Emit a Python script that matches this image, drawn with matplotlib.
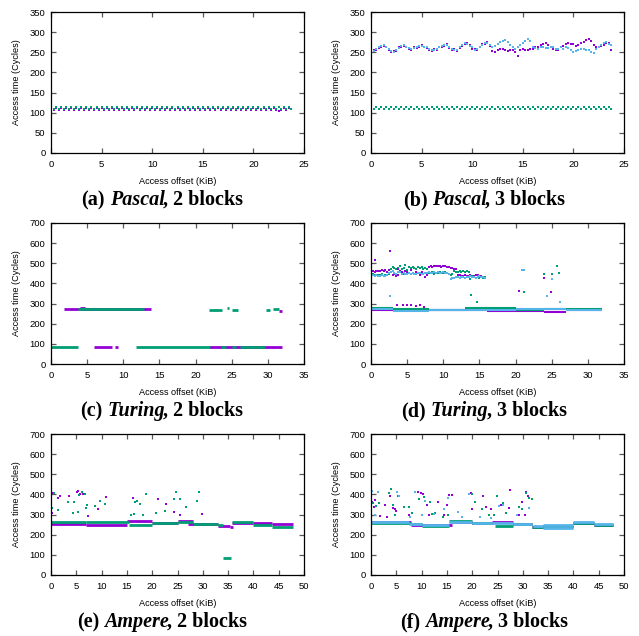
import matplotlib
matplotlib.use("Agg")
import matplotlib.pyplot as plt
import numpy as np

PURPLE, GREEN, BLUE = "#9400d3", "#009e73", "#56b4e9"

# --- Pascal: access offsets every 0.25 KiB (0 .. 23.75) ---
pascal_offsets = np.arange(96) * 0.25

pascal2_purple = [
    111, 106, 111, 106, 111, 106, 111, 106, 111, 106, 111, 106, 111, 106, 111, 106,
    111, 106, 111, 106, 111, 106, 111, 106, 111, 106, 111, 106, 111, 106, 111, 106,
    111, 106, 111, 106, 111, 106, 111, 106, 111, 106, 111, 106, 111, 106, 111, 106,
    111, 106, 111, 106, 111, 106, 111, 106, 111, 106, 111, 106, 111, 106, 111, 106,
    111, 106, 111, 106, 111, 106, 111, 106, 111, 106, 111, 106, 111, 106, 111, 106,
    111, 106, 111, 106, 111, 106, 111, 106, 111, 106, 105, 106, 111, 106, 111, 108,
]
pascal2_green = [
    115, 109, 115, 109, 115, 109, 115, 109, 115, 109, 115, 109, 115, 109, 115, 109,
    115, 109, 115, 109, 115, 109, 115, 109, 115, 109, 115, 109, 115, 109, 115, 109,
    115, 109, 115, 109, 115, 109, 115, 109, 115, 109, 115, 109, 115, 109, 115, 109,
    115, 109, 115, 109, 115, 109, 115, 109, 115, 109, 115, 109, 115, 109, 115, 109,
    115, 109, 115, 109, 115, 109, 115, 109, 115, 109, 115, 109, 115, 109, 115, 109,
    115, 109, 115, 109, 115, 109, 115, 109, 115, 109, 115, 109, 115, 109, 115, 110,
]

pascal3_purple = [
    252, 255, 256, 260, 263, 266, 264, 256, 250, 252, 253, 262, 263, 266, 264, 258,
    256, 262, 260, 263, 268, 262, 260, 256, 254, 257, 256, 264, 263, 266, 270, 260,
    256, 257, 253, 260, 266, 270, 272, 268, 258, 257, 256, 264, 270, 270, 276, 266,
    252, 250, 255, 258, 258, 255, 252, 255, 255, 250, 242, 255, 258, 255, 255, 258,
    258, 262, 262, 268, 270, 272, 268, 262, 258, 255, 255, 262, 265, 270, 272, 270,
    270, 265, 268, 272, 275, 280, 282, 278, 268, 262, 262, 265, 268, 272, 272, 255,
]
pascal3_green = [
    114, 108, 114, 108, 114, 108, 114, 108, 114, 108, 114, 108, 114, 108, 114, 108,
    114, 108, 114, 108, 114, 108, 114, 108, 114, 108, 114, 108, 114, 108, 114, 108,
    114, 108, 114, 108, 114, 108, 114, 108, 114, 108, 114, 108, 114, 108, 114, 108,
    114, 108, 114, 108, 114, 108, 114, 108, 114, 108, 114, 108, 114, 108, 114, 108,
    114, 108, 114, 108, 114, 108, 114, 108, 114, 108, 114, 108, 114, 108, 114, 108,
    114, 108, 114, 108, 114, 108, 114, 108, 114, 108, 114, 108, 114, 108, 114, 110,
]
pascal3_blue = [
    255, 252, 258, 262, 265, 268, 262, 258, 252, 250, 255, 260, 265, 268, 262, 260,
    258, 260, 262, 265, 266, 264, 262, 258, 256, 255, 258, 262, 265, 268, 268, 262,
    258, 255, 255, 262, 268, 272, 270, 265, 262, 255, 258, 262, 268, 272, 274, 268,
    262, 265, 270, 275, 278, 280, 275, 268, 262, 258, 262, 268, 272, 278, 282, 278,
    262, 260, 258, 262, 262, 260, 260, 264, 262, 258, 258, 262, 258, 262, 260, 255,
    250, 252, 255, 258, 258, 255, 255, 250, 248, 258, 262, 268, 272, 275, 270, 268,
]

# --- Turing, 2 blocks: flat runs (start KiB, end KiB, cycles) ---
turing2_purple_runs = [(1.8, 13.8, 271), (4.0, 4.7, 280), (5.9, 8.4, 85),
                       (8.9, 9.3, 85), (21.9, 31.9, 85), (31.6, 31.9, 265)]
turing2_green_runs = [(0.0, 3.7, 85), (3.8, 12.9, 272), (11.7, 22.0, 85),
                      (23.5, 24.2, 85), (25.0, 25.6, 85), (26.2, 29.6, 85),
                      (21.8, 23.6, 270), (24.3, 24.6, 276), (25.1, 25.9, 270),
                      (29.8, 30.3, 268), (30.7, 31.5, 271)]

# --- Turing, 3 blocks ---
turing3_hi_offsets = np.arange(64) * 0.25
turing3_purple_hi = [
    460, 462, 458, 460, 462, 460, 465, 462, 468, 458, 465, 455, 440, 445, 438, 442,
    462, 455, 448, 460, 455, 450, 465, 452, 445, 458, 450, 440, 455, 445, 430, 440,
    482, 485, 484, 488, 486, 485, 487, 484, 486, 485, 482, 480, 478, 475, 472, 470,
    442, 440, 438, 436, 440, 438, 435, 440, 438, 436, 442, 440, 432, 435, 430, 428,
]
turing3_green_hi = [
    442, 445, 440, 444, 442, 440, 445, 438, 442, 440, 448, 472, 480, 475, 470, 478,
    485, 472, 478, 490, 468, 480, 475, 482, 478, 470, 484, 476, 480, 472, 478, 470,
    452, 450, 455, 448, 452, 450, 455, 452, 450, 455, 452, 448, 440, 445, 460, 458,
    458, 460, 455, 462, 458, 460, 455, 420, 438, 430, 425, 435, 428, 432, 425, 430,
]
turing3_blue_hi = [
    438, 440, 436, 440, 438, 435, 440, 436, 438, 442, 450, 455, 460, 452, 448, 455,
    458, 445, 450, 448, 445, 450, 448, 452, 445, 448, 450, 452, 445, 448, 450, 452,
    455, 452, 450, 455, 452, 455, 450, 452, 455, 452, 450, 448, 420, 425, 428, 430,
    430, 428, 432, 430, 428, 432, 430, 435, 432, 430, 428, 432, 435, 430, 432, 428,
]
turing3_purple_runs = [(0, 3, 270), (3, 16, 268), (16, 24, 262), (24, 27, 258), (27, 32, 268)]
turing3_green_runs = [(0, 3, 278), (3, 8, 274), (8, 13, 270), (13, 20, 276), (20, 24, 270), (24, 32, 272)]
turing3_blue_runs = [(0, 3, 275), (3, 8, 263), (8, 12, 268), (12, 20, 270), (20, 27, 272), (27, 32, 270)]
turing3_purple_x = [0.55, 2.6, 3.8, 20.5, 24.0, 24.9, 25.8, 3.6, 4.4, 5.0, 5.6, 6.2, 6.8, 7.3]
turing3_purple_y = [518, 562, 470, 360, 428, 355, 487, 292, 295, 293, 294, 288, 292, 285]
turing3_green_x = [13.8, 14.6, 21.1, 24.0, 25.0, 26.0, 25.7]
turing3_green_y = [342, 307, 355, 447, 447, 450, 485]
turing3_blue_x = [2.6, 20.9, 21.2, 24.3, 25.0, 26.1]
turing3_blue_y = [336, 467, 465, 340, 420, 308]

# --- Ampere, 2 blocks ---
ampere2_purple_runs = [(0, 7, 255), (7, 15, 250), (15, 20, 268), (20, 25, 260), (25, 28, 267),
                       (27, 33, 255), (33, 35.4, 245), (35.4, 36, 240), (35.8, 40, 258),
                       (40, 43.7, 260), (43.7, 47.8, 252)]
ampere2_green_runs = [(0, 7, 262), (7, 15.5, 262), (15.5, 20, 248), (20, 25, 257), (25, 28, 265),
                      (28, 33, 255), (33, 34, 247), (34, 35.5, 85), (35.8, 40, 263),
                      (40, 43.7, 248), (43.7, 47.8, 238)]
ampere2_purple_x = [0.2, 0.4, 1.4, 1.8, 3.6, 5.1, 5.4, 5.7, 6.3, 7.4, 9.2, 10.8,
                    16.3, 21.1, 22.7, 24.4, 25.4, 29.9]
ampere2_purple_y = [310, 405, 381, 394, 394, 410, 417, 400, 404, 294, 329, 387,
                    380, 376, 351, 313, 298, 303]
ampere2_green_x = [0.2, 0.5, 1.4, 3.4, 4.3, 4.5, 5.3, 5.5, 6.1, 6.7, 6.9, 7.2, 8.6, 9.7,
                   10.7, 15.9, 16.4, 16.6, 16.9, 17.6, 18.2, 18.7, 20.8, 22.5, 24.3,
                   24.7, 25.5, 26.7, 28.8, 29.2]
ampere2_green_y = [334, 405, 321, 362, 307, 362, 311, 396, 412, 404, 334, 346, 341, 367,
                   354, 296, 301, 362, 366, 354, 298, 404, 306, 319, 376, 414, 379, 338,
                   369, 412]

# --- Ampere, 3 blocks ---
ampere3_purple_runs = [(0, 8, 262), (8, 16, 250), (16, 20, 265), (20, 24, 258), (24, 28, 262),
                       (28, 31.8, 255), (31.8, 34, 238), (34, 40, 245), (40, 44, 258),
                       (44, 47.8, 248)]
ampere3_green_runs = [(0, 8, 258), (8, 10, 252), (10, 15.5, 242), (15.5, 20, 268), (20, 24, 258),
                      (24.5, 28, 245), (28, 31.8, 255), (31.8, 34, 240), (34, 40, 238),
                      (40, 44, 260), (44, 47.8, 250)]
ampere3_blue_runs = [(0, 7.5, 262), (7.5, 10, 255), (10, 15.5, 250), (15.5, 20, 262),
                     (20, 24, 258), (24, 28, 258), (28, 31.8, 252), (32, 34, 245), (34, 40, 235),
                     (34, 40, 250), (40, 44, 262), (44, 47.8, 252)]
ampere3_purple_x = [0.2, 0.5, 0.8, 1.8, 2.8, 3.2, 3.8, 4.3, 4.7, 5.0, 7.5, 9.3, 9.8, 10.3,
                    11.0, 11.5, 13.3, 14.5, 15.0, 15.5, 16.0, 19.7, 20.0, 22.2, 22.8, 23.7,
                    24.3, 25.6, 27.3, 27.5, 29.3, 29.8, 30.4, 30.7, 31.1]
ampere3_purple_y = [360, 340, 372, 295, 350, 290, 390, 335, 330, 320, 300, 410, 405, 400,
                    350, 300, 360, 300, 350, 395, 398, 405, 330, 390, 340, 330,
                    300, 350, 335, 420, 300, 360, 300, 410, 390]
ampere3_green_x = [0.3, 1.0, 1.5, 3.6, 4.0, 4.3, 4.8, 5.3, 6.6, 7.5, 8.2, 9.4, 10.4, 11.7,
                   12.1, 12.6, 14.3, 15.2, 19.9, 20.5, 22.0, 23.4, 24.3, 24.9, 26.0, 26.6,
                   29.3, 29.8, 30.6, 31.3, 31.8]
ampere3_green_y = [355, 345, 355, 405, 425, 350, 300, 390, 340, 340, 310, 375, 385, 360,
                   305, 310, 290, 300, 400, 360, 330, 300, 300, 390, 355, 310,
                   340, 330, 405, 380, 378]
ampere3_blue_x = [0.2, 0.8, 1.4, 5.2, 5.6, 7.8, 8.7, 10.0, 10.7, 12.5, 14.5, 15.3, 17.2,
                  18.0, 19.3, 21.5, 23.8, 25.2, 26.1, 28.8, 31.3]
ampere3_blue_y = [415, 300, 410, 410, 390, 290, 410, 300, 365, 305, 330, 380, 315,
                  290, 400, 290, 285, 345, 350, 300, 335]

FIG_W, FIG_H = 639, 636
COL_LEFT = [51, 371]
COL_CENTER = [162, 484]
ROW_TOP = [12, 223, 434]
AX_W, AX_H = 253, 141

fig = plt.figure(figsize=(FIG_W / 100, FIG_H / 100), dpi=100)
plt.rcParams["font.family"] = "Liberation Sans"


def make_axes(row, col, xmax, ymax, ystep):
    left, top = COL_LEFT[col], ROW_TOP[row]
    ax = fig.add_axes([left / FIG_W, 1 - (top + AX_H) / FIG_H, AX_W / FIG_W, AX_H / FIG_H])
    ax.set_xlim(0, xmax)
    ax.set_ylim(0, ymax)
    ax.set_xticks(np.arange(0, xmax + 1, 5))
    ax.set_yticks(np.arange(0, ymax + 1, ystep))
    ax.tick_params(direction="in", length=3.5, width=0.9, color="0.35", top=True,
                   right=True, labelsize=6.8, pad=4)
    ax.tick_params(axis="x", pad=5)
    for sp in ax.spines.values():
        sp.set_linewidth(0.9)
    cx = (left + AX_W / 2) / FIG_W
    fig.text(cx, 1 - (top + AX_H + 28.5) / FIG_H, "Access offset (KiB)",
             ha="center", va="center", fontsize=6.6)
    fig.text((left - 34) / FIG_W, 1 - (top + AX_H / 2) / FIG_H, "Access time (Cycles)",
             ha="center", va="center", rotation=90, fontsize=6.6)
    return ax


def dots(ax, x, y, color):
    ax.plot(x, y, ls="none", marker="s", ms=1.6, mew=0, color=color)


def runs(ax, segs, color, lw=2.0):
    ax.hlines([s[2] for s in segs], [s[0] for s in segs], [s[1] for s in segs],
              color=color, lw=lw)


def caption(row, col, letter, name, rest):
    renderer = fig.canvas.get_renderer()
    base = 1 - (ROW_TOP[row] + AX_H + 52) / FIG_H
    kw = dict(fontfamily="Liberation Serif", fontweight="bold", fontsize=14.5, va="baseline")
    t1 = fig.text(0, base, letter, **kw)
    t2 = fig.text(0, base, name, style="italic", **kw)
    t3 = fig.text(0, base, rest, **kw)
    w = [t.get_window_extent(renderer).width for t in (t1, t2, t3)]
    gap = 5
    total = w[0] + gap + w[1] - 2 + w[2]
    x = COL_CENTER[col] - total / 2
    t1.set_x(x / FIG_W)
    t2.set_x((x + w[0] + gap) / FIG_W)
    t3.set_x((x + w[0] + gap + w[1] - 2) / FIG_W)


# (a) Pascal, 2 blocks
ax = make_axes(0, 0, 25, 350, 50)
dots(ax, pascal_offsets, pascal2_purple, PURPLE)
dots(ax, pascal_offsets, pascal2_green, GREEN)
caption(0, 0, "(a)", "Pascal", ", 2 blocks")

# (b) Pascal, 3 blocks
ax = make_axes(0, 1, 25, 350, 50)
dots(ax, pascal_offsets, pascal3_purple, PURPLE)
dots(ax, pascal_offsets, pascal3_green, GREEN)
dots(ax, pascal_offsets, pascal3_blue, BLUE)
caption(0, 1, "(b)", "Pascal", ", 3 blocks")

# (c) Turing, 2 blocks
ax = make_axes(1, 0, 35, 700, 100)
runs(ax, turing2_purple_runs, PURPLE)
runs(ax, turing2_green_runs, GREEN)
caption(1, 0, "(c)", "Turing", ", 2 blocks")

# (d) Turing, 3 blocks
ax = make_axes(1, 1, 35, 700, 100)
runs(ax, turing3_purple_runs, PURPLE, 1.5)
runs(ax, turing3_green_runs, GREEN, 1.5)
runs(ax, turing3_blue_runs, BLUE, 1.5)
dots(ax, turing3_hi_offsets, turing3_purple_hi, PURPLE)
dots(ax, turing3_hi_offsets, turing3_green_hi, GREEN)
dots(ax, turing3_hi_offsets, turing3_blue_hi, BLUE)
dots(ax, turing3_purple_x, turing3_purple_y, PURPLE)
dots(ax, turing3_green_x, turing3_green_y, GREEN)
dots(ax, turing3_blue_x, turing3_blue_y, BLUE)
caption(1, 1, "(d)", "Turing", ", 3 blocks")

# (e) Ampere, 2 blocks
ax = make_axes(2, 0, 50, 700, 100)
runs(ax, ampere2_purple_runs, PURPLE)
runs(ax, ampere2_green_runs, GREEN)
dots(ax, ampere2_purple_x, ampere2_purple_y, PURPLE)
dots(ax, ampere2_green_x, ampere2_green_y, GREEN)
caption(2, 0, "(e)", "Ampere", ", 2 blocks")

# (f) Ampere, 3 blocks
ax = make_axes(2, 1, 50, 700, 100)
runs(ax, ampere3_purple_runs, PURPLE)
runs(ax, ampere3_green_runs, GREEN)
runs(ax, ampere3_blue_runs, BLUE)
dots(ax, ampere3_purple_x, ampere3_purple_y, PURPLE)
dots(ax, ampere3_green_x, ampere3_green_y, GREEN)
dots(ax, ampere3_blue_x, ampere3_blue_y, BLUE)
caption(2, 1, "(f)", "Ampere", ", 3 blocks")

fig.savefig("out.png", dpi=100)
